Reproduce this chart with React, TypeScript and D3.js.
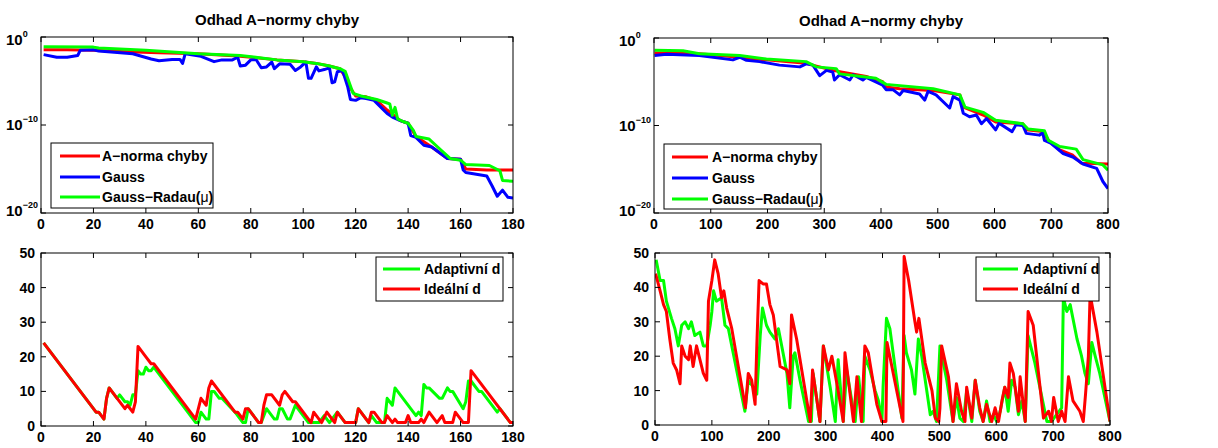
import React from "react";
import * as d3 from "d3";

// ---------------- DATA ----------------
const chartTitle = "Odhad A−normy chyby";
const topNames = ["A−norma chyby", "Gauss", "Gauss−Radau("];
const bottomNames = ["Adaptivní d", "Ideální d"];

const leftXTicks = [0, 20, 40, 60, 80, 100, 120, 140, 160, 180];
const rightXTicks = [0, 100, 200, 300, 400, 500, 600, 700, 800];
const logYTicksExp = [0, -10, -20];
const linYTicks = [0, 10, 20, 30, 40, 50];

// Top-left (180 iterations), values as log10
const tlNormX = [1, 10, 20, 30, 45, 60, 75, 90, 100, 105, 110, 114, 116, 118, 120, 124, 128, 132, 137, 140, 143, 149, 155, 160, 162, 170, 180];
const tlNormLog = [-1.45, -1.45, -1.5, -1.65, -1.8, -1.9, -2.15, -2.6, -2.8, -3.0, -3.3, -3.6, -4.5, -5.8, -6.7, -6.8, -7.2, -8.3, -9.5, -9.8, -11.3, -12.5, -13.8, -13.9, -15.0, -15.1, -15.1];

const tlGaussX = [1, 6, 10, 14, 15, 20, 22, 35, 42, 45, 50, 53, 54, 55, 61, 66, 69, 73, 75, 76, 78, 80, 82, 84, 86, 88, 89, 91, 95, 97, 99, 101, 102, 103, 105, 106, 108, 110, 111, 112, 113, 115, 117, 118, 120, 122, 124, 127, 129, 132, 134, 137, 140, 141, 143, 146, 149, 155, 160, 161, 162, 170, 172, 174, 176, 178, 180];
const tlGaussLog = [-2.0, -2.3, -2.3, -2.1, -1.5, -1.45, -1.6, -1.9, -2.5, -2.7, -2.55, -2.55, -3.0, -1.9, -2.2, -2.8, -2.6, -2.6, -2.3, -3.3, -3.2, -2.6, -2.55, -3.5, -3.4, -2.85, -3.6, -3.05, -3.1, -3.8, -3.4, -2.85, -4.7, -4.7, -3.4, -3.85, -3.7, -3.5, -5.2, -5.1, -3.95, -3.8, -5.7, -7.1, -7.2, -6.9, -7.0, -7.2, -7.8, -8.7, -9.1, -9.5, -9.8, -11.2, -11.4, -12.3, -12.5, -13.8, -13.9, -15.1, -15.4, -15.8, -16.9, -18.1, -17.4, -18.2, -18.3];

const tlRadauX = [1, 20, 22, 40, 60, 76, 90, 100, 105, 110, 114, 116, 119, 122, 128, 132, 133, 134, 135, 136, 138, 140, 142, 143, 148, 152, 156, 160, 162, 171, 175, 176, 180];
const tlRadauLog = [-1.1, -1.15, -1.25, -1.5, -1.9, -2.1, -2.6, -2.8, -3.0, -3.3, -3.6, -3.9, -6.4, -6.7, -7.1, -7.5, -7.6, -8.9, -8.0, -9.3, -9.6, -9.8, -10.6, -11.3, -11.6, -12.7, -13.8, -14.0, -14.5, -14.6, -15.2, -16.3, -16.4];

// Top-right (800 iterations), values as log10
const trNormX = [1, 80, 151, 198, 268, 315, 374, 403, 409, 433, 492, 539, 545, 580, 602, 650, 656, 685, 695, 715, 738, 753, 800];
const trNormLog = [-1.7, -1.8, -2.2, -2.5, -2.9, -3.7, -4.4, -5.0, -5.6, -5.8, -6.0, -6.5, -7.9, -8.8, -9.6, -9.8, -10.5, -10.7, -11.7, -12.8, -13.4, -14.3, -14.4];

const trGaussX = [1, 22, 80, 139, 151, 163, 186, 221, 257, 268, 280, 292, 304, 315, 318, 327, 345, 351, 368, 374, 403, 409, 421, 433, 439, 468, 477, 483, 497, 521, 527, 539, 545, 556, 568, 577, 586, 602, 608, 631, 638, 650, 656, 679, 685, 688, 699, 721, 738, 756, 780, 791, 800];
const trGaussLog = [-2.0, -1.85, -2.0, -2.5, -2.2, -2.55, -2.7, -3.1, -3.3, -2.95, -3.1, -4.3, -3.7, -3.9, -4.8, -4.2, -4.8, -4.2, -4.8, -4.5, -5.4, -5.9, -5.9, -6.5, -6.0, -6.4, -7.1, -6.1, -6.5, -8.0, -6.7, -7.1, -8.6, -9.0, -8.8, -9.8, -9.2, -10.5, -9.75, -10.7, -9.9, -10.0, -10.9, -11.1, -10.85, -11.7, -12.0, -13.2, -13.6, -14.4, -14.9, -16.4, -17.2];

const trRadauX = [1, 51, 80, 151, 198, 268, 286, 321, 327, 391, 409, 492, 539, 548, 580, 602, 650, 659, 688, 695, 715, 744, 756, 791, 800];
const trRadauLog = [-1.4, -1.45, -1.8, -2.0, -2.4, -2.7, -3.3, -3.5, -4.1, -4.6, -5.3, -5.8, -6.5, -7.9, -8.5, -9.4, -9.8, -10.4, -10.6, -11.7, -12.4, -12.7, -13.9, -14.5, -15.1];

// Bottom-left (d values)
const blAdaptX = [1, 21, 22, 24, 25, 26, 29, 30, 32, 33, 34, 35, 36, 37, 38, 39, 40, 41, 42, 43, 58, 59, 60, 61, 63, 64, 65, 66, 68, 69, 74, 77, 78, 79, 83, 84, 86, 87, 89, 90, 91, 92, 94, 95, 97, 102, 103, 106, 108, 110, 113, 116, 120, 121, 125, 126, 128, 131, 132, 133, 134, 135, 143, 144, 145, 146, 147, 148, 152, 153, 155, 156, 157, 161, 162, 163, 164, 165, 167, 168, 174, 175, 179, 180];
const blAdaptD = [24, 4, 4, 2, 8, 11, 8, 9, 7, 7, 6, 9, 9, 16, 15, 15, 17, 16, 16, 17, 2, 1, 1, 4, 2, 2, 10, 10, 8, 8, 4, 1, 1, 5, 1, 1, 5, 4, 2, 2, 5, 5, 2, 2, 6, 1, 1, 1, 3, 1, 4, 1, 1, 5, 1, 3, 1, 1, 8, 7, 6, 11, 3, 4, 3, 12, 11, 11, 8, 8, 11, 10, 10, 5, 7, 13, 13, 12, 10, 10, 4, 5, 1, 1];

const blIdealX = [1, 21, 22, 24, 25, 26, 32, 33, 35, 36, 37, 40, 42, 43, 59, 61, 63, 64, 65, 74, 75, 77, 78, 79, 83, 84, 85, 86, 88, 91, 92, 93, 96, 97, 103, 104, 107, 109, 112, 113, 116, 120, 121, 125, 126, 127, 130, 131, 132, 134, 135, 136, 139, 140, 141, 144, 145, 146, 148, 151, 153, 154, 157, 158, 161, 163, 164, 179, 180];
const blIdealD = [24, 4, 4, 2, 8, 11, 5, 6, 4, 7, 23, 20, 18, 18, 2, 8, 6, 11, 13, 4, 4, 2, 5, 5, 1, 1, 6, 9, 9, 6, 9, 10, 7, 7, 1, 4, 1, 4, 1, 4, 1, 1, 5, 1, 4, 4, 1, 1, 3, 1, 2, 1, 1, 3, 1, 1, 2, 1, 4, 1, 3, 1, 1, 4, 1, 1, 16, 1, 1];

// Bottom-right (d values)
const brAdaptX = [2, 9, 15, 20, 29, 35, 41, 47, 53, 59, 64, 70, 79, 85, 91, 97, 100, 103, 108, 117, 123, 129, 135, 158, 164, 173, 179, 185, 189, 196, 202, 211, 217, 232, 237, 243, 246, 255, 270, 275, 278, 290, 296, 308, 317, 322, 331, 337, 352, 358, 366, 369, 378, 387, 393, 399, 401, 407, 413, 434, 438, 442, 451, 457, 463, 469, 484, 489, 495, 501, 513, 524, 530, 536, 542, 548, 557, 563, 571, 577, 583, 589, 595, 601, 607, 615, 621, 627, 633, 639, 645, 651, 656, 668, 689, 697, 706, 715, 718, 724, 730, 742, 750, 756, 762, 768, 774, 782, 800];
const brAdaptD = [48, 42, 42, 36, 31, 28, 23, 29, 30, 28, 30, 26, 27, 23, 23, 29, 33, 39, 36, 37, 29, 28, 23, 4, 13, 11, 9, 26, 34, 29, 27, 25, 28, 15, 5, 20, 21, 13, 1, 1, 15, 1, 23, 11, 1, 19, 1, 16, 1, 14, 1, 20, 16, 10, 7, 1, 11, 31, 28, 2, 26, 21, 16, 9, 25, 20, 3, 4, 1, 23, 13, 1, 8, 2, 1, 10, 1, 13, 4, 1, 7, 1, 3, 1, 4, 11, 4, 13, 11, 3, 7, 1, 26, 18, 1, 1, 3, 5, 37, 33, 35, 25, 20, 15, 12, 24, 20, 15, 1];

const brIdealX = [1, 9, 15, 20, 26, 32, 38, 44, 47, 53, 59, 62, 67, 73, 79, 85, 91, 94, 100, 105, 111, 117, 121, 126, 135, 159, 164, 170, 176, 179, 183, 190, 196, 202, 208, 220, 232, 237, 240, 249, 267, 273, 277, 284, 290, 296, 305, 311, 322, 331, 334, 349, 355, 363, 369, 375, 390, 399, 406, 408, 431, 436, 438, 446, 457, 460, 464, 475, 487, 493, 499, 501, 504, 516, 524, 530, 539, 545, 548, 557, 563, 571, 577, 583, 592, 598, 604, 610, 615, 621, 624, 630, 639, 642, 651, 656, 665, 683, 692, 697, 701, 709, 715, 721, 727, 735, 747, 753, 757, 762, 765, 777, 800];
const brIdealD = [44, 39, 35, 33, 25, 18, 16, 12, 23, 20, 19, 23, 17, 23, 19, 15, 13, 36, 42, 48, 44, 37, 39, 34, 28, 5, 15, 13, 6, 23, 42, 41, 41, 35, 32, 17, 16, 12, 32, 25, 7, 1, 16, 8, 1, 23, 16, 20, 10, 1, 21, 1, 14, 1, 23, 21, 6, 1, 1, 24, 5, 1, 49, 42, 30, 27, 31, 18, 10, 2, 1, 5, 23, 14, 1, 12, 4, 1, 11, 2, 13, 5, 1, 6, 1, 5, 1, 7, 11, 8, 18, 15, 4, 14, 1, 33, 29, 2, 4, 1, 8, 1, 4, 1, 14, 7, 4, 1, 9, 20, 38, 27, 1];

// ---------------- STYLE ----------------
const FONT = "'Liberation Sans', Arial, Helvetica, sans-serif";
const RED = "#ff0000";
const BLUE = "#0000ff";
const GREEN = "#00ff00";

type Box = { l: number; t: number; r: number; b: number };
type Series = { xs: number[]; ys: number[]; color: string };
type Legend = { x: number; y: number; w: number; h: number; lx1: number; lx2: number; tx: number; rows: number[] };

function zip(xs: number[], ys: number[]): [number, number][] {
  return xs.map((v, i) => [v, ys[i]]);
}

function Panel(props: {
  id: string;
  box: Box;
  xMax: number;
  xTicks: number[];
  logY: boolean;
  title?: string;
  titleY?: number;
  series: Series[];
  legend: Legend;
  names: string[];
  legendColors: string[];
  muLast?: boolean;
}) {
  const { id, box, xMax, xTicks, logY, series, legend, names, legendColors } = props;
  const x = d3.scaleLinear().domain([0, xMax]).range([box.l, box.r]);
  const y = logY
    ? d3.scaleLog().domain([1e-20, 1]).range([box.b, box.t])
    : d3.scaleLinear().domain([0, 50]).range([box.b, box.t]);
  const line = d3
    .line<[number, number]>()
    .x((d) => x(d[0]))
    .y((d) => y(logY ? Math.pow(10, d[1]) : d[1]));
  const tk = 5;
  const yTickVals = logY ? logYTicksExp.map((e) => Math.pow(10, e)) : linYTicks;
  const logLabelOffsets = [8, 5, 3];
  return (
    <g>
      <defs>
        <clipPath id={id}>
          <rect x={box.l} y={box.t} width={box.r - box.l} height={box.b - box.t} />
        </clipPath>
      </defs>
      <rect x={box.l} y={box.t} width={box.r - box.l} height={box.b - box.t} fill="#fff" />
      {props.title && (
        <text
          x={(box.l + box.r) / 2}
          y={props.titleY}
          textAnchor="middle"
          fontFamily={FONT}
          fontWeight="bold"
          fontSize={15}
        >
          {props.title}
        </text>
      )}
      <g clipPath={`url(#${id})`}>
        {series.map((s, i) => (
          <path
            key={i}
            d={line(zip(s.xs, s.ys)) || ""}
            fill="none"
            stroke={s.color}
            strokeWidth={3}
            strokeLinejoin="round"
          />
        ))}
      </g>
      {/* frame */}
      <rect
        x={box.l}
        y={box.t}
        width={box.r - box.l}
        height={box.b - box.t}
        fill="none"
        stroke="#000"
        strokeWidth={1}
      />
      {/* x ticks */}
      {xTicks.map((v) => (
        <g key={"x" + v}>
          <line x1={x(v)} x2={x(v)} y1={box.b} y2={box.b - tk} stroke="#000" />
          <line x1={x(v)} x2={x(v)} y1={box.t} y2={box.t + tk} stroke="#000" />
          <text
            x={x(v)}
            y={box.b + 16}
            textAnchor="middle"
            fontFamily={FONT}
            fontWeight="bold"
            fontSize={14}
          >
            {v}
          </text>
        </g>
      ))}
      {/* y ticks */}
      {yTickVals.map((v, i) => (
        <g key={"y" + i}>
          <line x1={box.l} x2={box.l + tk} y1={y(v)} y2={y(v)} stroke="#000" />
          <line x1={box.r} x2={box.r - tk} y1={y(v)} y2={y(v)} stroke="#000" />
          {logY ? (
            <text
              x={box.l - 35}
              y={y(v) + logLabelOffsets[i]}
              fontFamily={FONT}
              fontWeight="bold"
              fontSize={15}
            >
              10
              <tspan fontSize={9} dy={-8}>
                {logYTicksExp[i] === 0 ? "0" : "−" + Math.abs(logYTicksExp[i])}
              </tspan>
            </text>
          ) : (
            <text
              x={box.l - 6}
              y={y(v) + 5}
              textAnchor="end"
              fontFamily={FONT}
              fontWeight="bold"
              fontSize={14}
            >
              {v}
            </text>
          )}
        </g>
      ))}
      {/* legend */}
      <rect x={legend.x} y={legend.y} width={legend.w} height={legend.h} fill="#fff" stroke="#000" strokeWidth={1} />
      {names.map((n, i) => (
        <g key={"l" + i}>
          <line
            x1={legend.lx1}
            x2={legend.lx2}
            y1={legend.rows[i]}
            y2={legend.rows[i]}
            stroke={legendColors[i]}
            strokeWidth={3}
          />
          <text
            x={legend.tx}
            y={legend.rows[i] + 5}
            fontFamily={FONT}
            fontWeight="bold"
            fontSize={14}
          >
            {n}
            {props.muLast && i === names.length - 1 ? (
              <>
                <tspan fontWeight="normal">μ</tspan>)
              </>
            ) : null}
          </text>
        </g>
      ))}
    </g>
  );
}

export default function App() {
  const topLegendColors = [RED, BLUE, GREEN];
  const bottomLegendColors = [GREEN, RED];
  return (
    <div style={{ position: "absolute", left: 0, top: 0 }}>
      <svg width={1218} height={448} style={{ display: "block", background: "#fff" }}>
        <Panel
          id="tl"
          box={{ l: 41, t: 37, r: 513, b: 213 }}
          xMax={180}
          xTicks={leftXTicks}
          logY={true}
          title={chartTitle}
          titleY={25}
          series={[
            { xs: tlNormX, ys: tlNormLog, color: RED },
            { xs: tlGaussX, ys: tlGaussLog, color: BLUE },
            { xs: tlRadauX, ys: tlRadauLog, color: GREEN },
          ]}
          legend={{ x: 51, y: 143, w: 162, h: 65, lx1: 60, lx2: 100, tx: 102, rows: [156, 177, 197] }}
          names={topNames}
          legendColors={topLegendColors}
          muLast={true}
        />
        <Panel
          id="tr"
          box={{ l: 654, t: 38, r: 1108, b: 213 }}
          xMax={800}
          xTicks={rightXTicks}
          logY={true}
          title={chartTitle}
          titleY={26}
          series={[
            { xs: trNormX, ys: trNormLog, color: RED },
            { xs: trGaussX, ys: trGaussLog, color: BLUE },
            { xs: trRadauX, ys: trRadauLog, color: GREEN },
          ]}
          legend={{ x: 664, y: 144, w: 157, h: 65, lx1: 672, lx2: 708, tx: 712, rows: [157, 178, 199] }}
          names={topNames}
          legendColors={topLegendColors}
          muLast={true}
        />
        <Panel
          id="bl"
          box={{ l: 41, t: 253, r: 513, b: 426 }}
          xMax={180}
          xTicks={leftXTicks}
          logY={false}
          series={[
            { xs: blAdaptX, ys: blAdaptD, color: GREEN },
            { xs: blIdealX, ys: blIdealD, color: RED },
          ]}
          legend={{ x: 376, y: 257, w: 127, h: 44, lx1: 383, lx2: 420, tx: 424, rows: [269, 289] }}
          names={bottomNames}
          legendColors={bottomLegendColors}
        />
        <Panel
          id="br"
          box={{ l: 655, t: 253, r: 1110, b: 425 }}
          xMax={800}
          xTicks={rightXTicks}
          logY={false}
          series={[
            { xs: brAdaptX, ys: brAdaptD, color: GREEN },
            { xs: brIdealX, ys: brIdealD, color: RED },
          ]}
          legend={{ x: 976, y: 257, w: 123, h: 44, lx1: 983, lx2: 1018, tx: 1023, rows: [269, 289] }}
          names={bottomNames}
          legendColors={bottomLegendColors}
        />
      </svg>
    </div>
  );
}
